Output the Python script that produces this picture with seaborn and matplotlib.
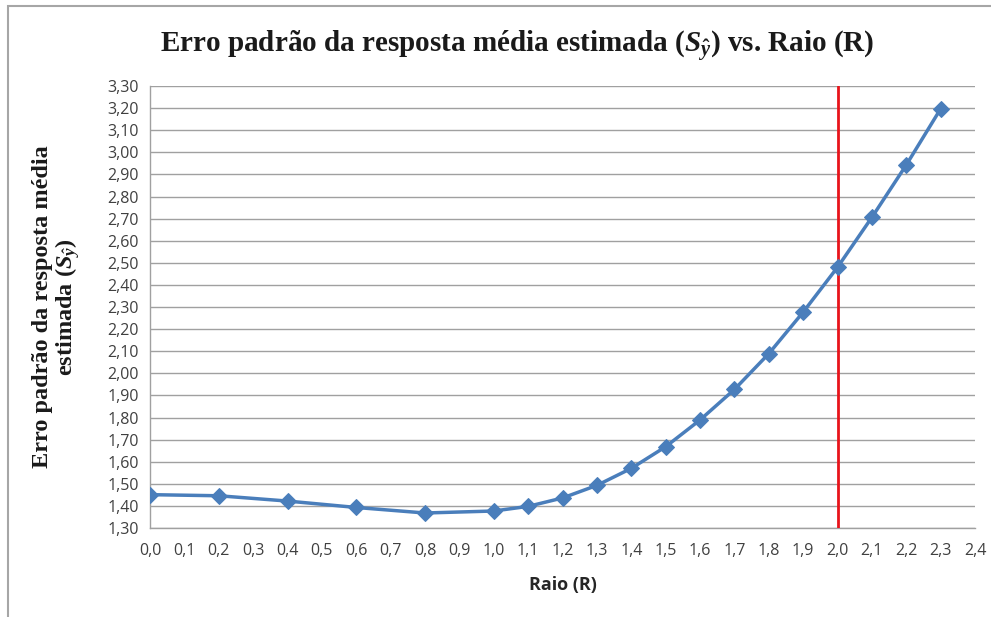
import matplotlib
matplotlib.use("Agg")
import matplotlib.pyplot as plt
import seaborn as sns
import pandas as pd
from matplotlib.ticker import FuncFormatter, MultipleLocator
from matplotlib.patches import Rectangle

# Data
raio = [0.0, 0.2, 0.4, 0.6, 0.8, 1.0, 1.1, 1.2, 1.3, 1.4, 1.5, 1.6, 1.7,
        1.8, 1.9, 2.0, 2.1, 2.2, 2.3]
erro_padrao = [1.451, 1.446, 1.422, 1.393, 1.368, 1.377, 1.398, 1.436, 1.493,
               1.570, 1.668, 1.789, 1.927, 2.089, 2.277, 2.480, 2.706, 2.943, 3.197]
raio_limite = 2.0

title_text = r"Erro padrão da resposta média estimada ($S_{\hat{y}}$) vs. Raio (R)"
ylabel_text = "Erro padrão da resposta média\nestimada ($S_{\\hat{y}}$)"
xlabel_text = "Raio (R)"

df = pd.DataFrame({"Raio": raio, "Erro": erro_padrao})

sns.set_theme(style="white")
plt.rcParams["mathtext.fontset"] = "custom"
plt.rcParams["mathtext.rm"] = "Liberation Serif:bold"
plt.rcParams["mathtext.it"] = "Liberation Serif:italic:bold"
plt.rcParams["mathtext.bf"] = "Liberation Serif:bold"

fig = plt.figure(figsize=(9.91, 6.17), dpi=100)
ax = fig.add_axes([0.1514, 0.1442, 0.8325, 0.7164])

# chart border (Excel-like chart area)
fig.patches.append(Rectangle((8 / 991, -0.01), 1.0, (617 - 6) / 617 + 0.01,
                             transform=fig.transFigure, fill=False,
                             edgecolor="#a6a6a6", linewidth=1.5))

ax.axvline(raio_limite, color="#e8141b", linewidth=2, zorder=3)

sns.lineplot(data=df, x="Raio", y="Erro", ax=ax, color="#4a7ebb",
             linewidth=2.5, marker="D", markersize=8,
             markeredgecolor="#4a7ebb", zorder=4)

ax.set_xlim(0, 2.4)
ax.set_ylim(1.30, 3.30)
ax.xaxis.set_major_locator(MultipleLocator(0.1))
ax.yaxis.set_major_locator(MultipleLocator(0.1))
ax.xaxis.set_major_formatter(FuncFormatter(lambda v, p: f"{v:.1f}".replace(".", ",")))
ax.yaxis.set_major_formatter(FuncFormatter(lambda v, p: f"{v:.2f}".replace(".", ",")))

ax.grid(axis="y", color="#a0a0a0", linewidth=1)
ax.grid(axis="x", visible=False)
for side in ["top", "right"]:
    ax.spines[side].set_visible(False)
for side in ["left", "bottom"]:
    ax.spines[side].set_color("#a0a0a0")
    ax.spines[side].set_linewidth(1)

ax.tick_params(axis="both", which="major", direction="out", length=5,
               width=1, color="#a0a0a0", labelcolor="#404040", labelsize=11.5)
ax.tick_params(axis="x", pad=6)
ax.tick_params(axis="y", pad=3)
for lbl in ax.get_xticklabels() + ax.get_yticklabels():
    lbl.set_family("Open Sans")

ax.set_xlabel(xlabel_text, fontsize=13, fontweight="bold", family="Open Sans",
              color="#262626", labelpad=12)
ax.set_ylabel(ylabel_text, fontsize=17.5, fontweight="bold",
              family="Liberation Serif", color="#1a1a1a", labelpad=18,
              linespacing=1.05)

fig.text(0.522, 0.924, title_text, ha="center", va="center", fontsize=21,
         fontweight="bold", family="Liberation Serif", color="#1a1a1a")

fig.savefig("out.png", dpi=100)
